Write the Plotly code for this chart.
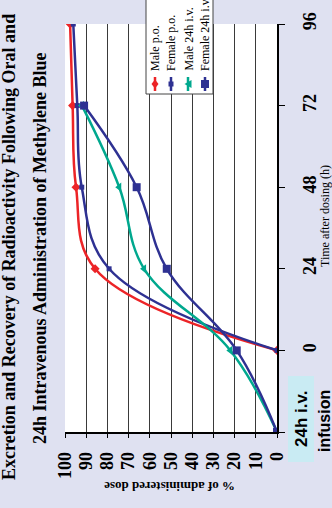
import plotly.graph_objects as go

# ---- data (chart is drawn rotated: x = % of dose, y = time) ----
time_po = [0, 24, 48, 72, 96]
male_po = [0, 85.8, 94.8, 96.4, 97.6]
female_po = [0, 79.2, 92.1, 94.2, 96.1]
time_iv = [-24, 0, 24, 48, 72]
male_iv = [0, 22, 62.7, 74.4, 92]
female_iv = [0, 19, 52, 66.2, 91]
pct_ticks = [0, 10, 20, 30, 40, 50, 60, 70, 80, 90, 100]
time_ticks = [-24, 0, 24, 48, 72, 96]
time_ticktext = ["", "0", "24", "48", "72", "96"]
series_names = ["Male p.o.", "Female p.o.", "Male 24h i.v.", "Female 24h i.v."]

W, H = 332, 508
L, R, T, B = 65, 55, 24, 76
PW, PH = W - L - R, H - T - B

def px(x):
    return (x - L) / PW

def py(y):
    return (H - B - y) / PH

RED = "#ec2427"
NAVY = "#2e3192"
GREEN = "#00a88e"
BG = "#dfe1f1"
SERIF = "Liberation Serif"

fig = go.Figure()
fig.add_trace(go.Scatter(x=male_po, y=time_po, mode="lines+markers", name=series_names[0],
                         line=dict(color=RED, width=2.5, shape="spline", smoothing=1.1),
                         marker=dict(symbol="diamond", size=7, color=RED)))
fig.add_trace(go.Scatter(x=female_po, y=time_po, mode="lines+markers", name=series_names[1],
                         line=dict(color=NAVY, width=2.5, shape="spline", smoothing=1.1),
                         marker=dict(symbol="square", size=5, color=NAVY)))
fig.add_trace(go.Scatter(x=male_iv, y=time_iv, mode="lines+markers", name=series_names[2],
                         line=dict(color=GREEN, width=2.5, shape="spline", smoothing=1.1),
                         marker=dict(symbol="triangle-left", size=8, color=GREEN)))
fig.add_trace(go.Scatter(x=female_iv, y=time_iv, mode="lines+markers", name=series_names[3],
                         line=dict(color=NAVY, width=2.5, shape="spline", smoothing=1.1),
                         marker=dict(symbol="square", size=8, color=NAVY)))

tickfont = dict(family=SERIF, size=18, color="black", weight="bold")
fig.update_layout(
    width=W, height=H,
    margin=dict(l=L, r=R, t=T, b=B, pad=0),
    paper_bgcolor=BG, plot_bgcolor="white",
    showlegend=False,
    xaxis=dict(range=[100, 0], tickvals=pct_ticks, showgrid=True, gridcolor="#3a3a3a", gridwidth=1,
               zeroline=False, showline=True, linecolor="black", linewidth=1.5,
               ticks="outside", ticklen=4, tickcolor="black", tickangle=-90,
               tickfont=tickfont, ticklabelstandoff=7, automargin=False),
    yaxis=dict(range=[-24, 96], side="right", tickvals=time_ticks, ticktext=time_ticktext,
               showgrid=False, zeroline=False, showline=True, linecolor="black", linewidth=1.5,
               ticks="outside", ticklen=6, tickcolor="black", tickangle=-90,
               tickfont=tickfont, ticklabelstandoff=10, automargin=False),
)

ann = []
# title (rotated)
ann.append(dict(text="<b>Excretion and Recovery of Radioactivity Following Oral and</b>",
                x=px(9), y=py(247), xref="paper", yref="paper", showarrow=False, textangle=-90,
                xanchor="center", yanchor="middle", font=dict(family=SERIF, size=18, color="black")))
ann.append(dict(text="<b>24h Intravenous Administration of Methylene Blue</b>",
                x=px(40), y=py(248), xref="paper", yref="paper", showarrow=False, textangle=-90,
                xanchor="center", yanchor="middle", font=dict(family=SERIF, size=18, color="black")))
# axis titles
ann.append(dict(text="<b>% of administered dose</b>", x=px(170), y=py(487), xref="paper", yref="paper",
                showarrow=False, textangle=180, xanchor="center", yanchor="middle",
                font=dict(family=SERIF, size=13, color="black")))
ann.append(dict(text="Time after dosing (h)", x=px(325), y=py(216), xref="paper", yref="paper",
                showarrow=False, textangle=-90, xanchor="center", yanchor="middle",
                font=dict(family=SERIF, size=12, color="black")))

shapes = []
# infusion label background box
shapes.append(dict(type="rect", xref="paper", yref="paper", x0=px(288), x1=px(314), y0=py(462), y1=py(376),
                   fillcolor="#c9ebf3", line=dict(width=0), layer="below"))
ann.append(dict(text="<b>24h i.v.</b>", x=px(301), y=py(419), xref="paper", yref="paper",
                showarrow=False, textangle=-90, xanchor="center", yanchor="middle",
                font=dict(family="Liberation Sans", size=17, color="black")))
ann.append(dict(text="<b>infusion</b>", x=px(324), y=py(421), xref="paper", yref="paper",
                showarrow=False, textangle=-90, xanchor="center", yanchor="middle",
                font=dict(family="Liberation Sans", size=16, color="black")))

# legend box
shapes.append(dict(type="rect", xref="paper", yref="paper", x0=px(146), x1=px(213), y0=py(94), y1=py(-5),
                   fillcolor="white", line=dict(color="#444", width=1), layer="above"))
leg_x = [155, 171, 188, 205]
leg_col = [RED, NAVY, GREEN, NAVY]
leg_paths = [
    "M -3.5,0 L 0,4.5 L 3.5,0 L 0,-4.5 Z",
    "M -2.5,-2.5 L 2.5,-2.5 L 2.5,2.5 L -2.5,2.5 Z",
    "M 3.5,-4 L 3.5,4 L -3.5,0 Z",
    "M -4,-4 L 4,-4 L 4,4 L -4,4 Z",
]
for name, lx, col, path in zip(series_names, leg_x, leg_col, leg_paths):
    ann.append(dict(text=name, x=px(lx), y=py(73), xref="paper", yref="paper", showarrow=False,
                    textangle=-90, xanchor="center", yanchor="bottom",
                    font=dict(family=SERIF, size=12, color="black")))
    shapes.append(dict(type="line", xref="paper", yref="paper", x0=px(lx), x1=px(lx), y0=py(77), y1=py(91),
                       line=dict(color=col, width=2.5), layer="above"))
    shapes.append(dict(type="path", xref="paper", yref="paper", xsizemode="pixel", ysizemode="pixel",
                       xanchor=px(lx), yanchor=py(84), path=path, fillcolor=col,
                       line=dict(color=col, width=0), layer="above"))

fig.update_layout(annotations=ann, shapes=shapes)
# remove the default page margin so the figure sits at the window's top-left corner
fig.write_html("out.html", config={"displayModeBar": False},
               post_script="document.body.style.margin='0px';document.body.style.background='%s';" % BG)
